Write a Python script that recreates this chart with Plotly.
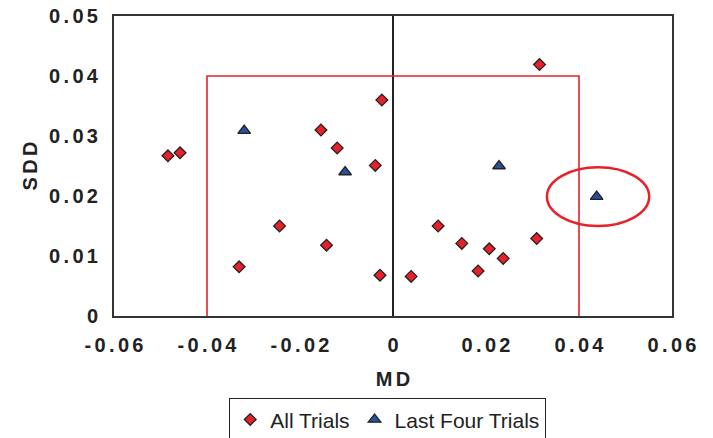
import plotly.graph_objects as go

# ---- data ----
all_md = [-0.0484, -0.0458, -0.0155, -0.0120, -0.0024, -0.0038, -0.0331, -0.0244,
          -0.0143, -0.0028, 0.0039, 0.0097, 0.0148, 0.0207, 0.0237, 0.0183, 0.0309, 0.0315]
all_sdd = [0.0267, 0.0272, 0.0310, 0.0280, 0.0360, 0.0251, 0.0082, 0.0150,
           0.0118, 0.0068, 0.0066, 0.0150, 0.0121, 0.0112, 0.0096, 0.0075, 0.0129, 0.0419]

last_md = [-0.0320, -0.0103, 0.0228, 0.0438]
last_sdd = [0.0309, 0.0240, 0.0250, 0.0199]

x_ticks = [-0.06, -0.04, -0.02, 0, 0.02, 0.04, 0.06]
x_labels = ["-0.06", "-0.04", "-0.02", "0", "0.02", "0.04", "0.06"]
y_ticks = [0, 0.01, 0.02, 0.03, 0.04, 0.05]
y_labels = ["0", "0.01", "0.02", "0.03", "0.04", "0.05"]

# limits box and highlighted point
box_md = 0.04
box_sdd = 0.04
ell_cx, ell_cy = 0.0441, 0.0199
ell_rx, ell_ry = 0.0110, 0.0049

SP = "\u2006"


def spaced(s):
    return SP.join(list(s))


RED = "#E8202A"
BLUE = "#2A4F9C"
DARK = "#222222"

fig = go.Figure()
fig.add_trace(go.Scatter(
    x=all_md, y=all_sdd, mode="markers", name="All Trials",
    marker=dict(symbol="diamond", size=9, color=RED, line=dict(color=DARK, width=1.3)),
))
fig.add_trace(go.Scatter(
    x=last_md, y=last_sdd, mode="markers", name="Last Four Trials",
    marker=dict(symbol="triangle-up", size=11, color=BLUE, line=dict(color=DARK, width=1.3)),
))

# red limit box (three visible sides)
fig.add_shape(type="path",
              path=f"M {-box_md},0 L {-box_md},{box_sdd} L {box_md},{box_sdd} L {box_md},0",
              line=dict(color=RED, width=1.6), layer="above")
# red ellipse
fig.add_shape(type="circle", x0=ell_cx - ell_rx, x1=ell_cx + ell_rx,
              y0=ell_cy - ell_ry, y1=ell_cy + ell_ry,
              line=dict(color=RED, width=2.5), layer="above")

tickfont = dict(family="Liberation Sans, Arial, sans-serif", size=20, color=DARK, weight="bold")

# the page body has an 8px margin, so the figure is offset by 8px
fig.update_layout(
    width=713, height=438,
    margin=dict(l=106, r=49, t=8, b=130, autoexpand=False),
    paper_bgcolor="white", plot_bgcolor="white",
    font=dict(family="Liberation Sans, Arial, sans-serif", color=DARK),
    showlegend=True,
    legend=dict(orientation="h", x=0.49, xanchor="center", xref="paper",
                y=1 - 390 / 438, yanchor="top", yref="container",
                bordercolor=DARK, borderwidth=1.3, itemwidth=30,
                font=dict(family="Liberation Sans, Arial, sans-serif", size=21, color=DARK)),
    xaxis=dict(range=[-0.06, 0.06], tickvals=x_ticks, ticktext=[spaced(t) for t in x_labels],
               tickfont=tickfont, showgrid=False, zeroline=True, zerolinecolor=DARK,
               zerolinewidth=1.5, showline=True, linecolor="#333333", linewidth=2,
               mirror=True, ticks="", ticklen=0, ticklabelstandoff=10, automargin=False,
               ticklabeloverflow="allow",
               title=dict(text=spaced("MD"), font=tickfont, standoff=17)),
    yaxis=dict(range=[0, 0.05], tickvals=y_ticks, ticktext=[spaced(t) for t in y_labels],
               tickfont=tickfont, showgrid=False, zeroline=False, showline=True,
               linecolor="#333333", linewidth=2, mirror=True, ticks="",
               ticklabelstandoff=10, automargin=False, ticklabeloverflow="allow",
               title=dict(text=spaced("SDD"), font=tickfont, standoff=6)),
)

fig.write_html("out.html")
